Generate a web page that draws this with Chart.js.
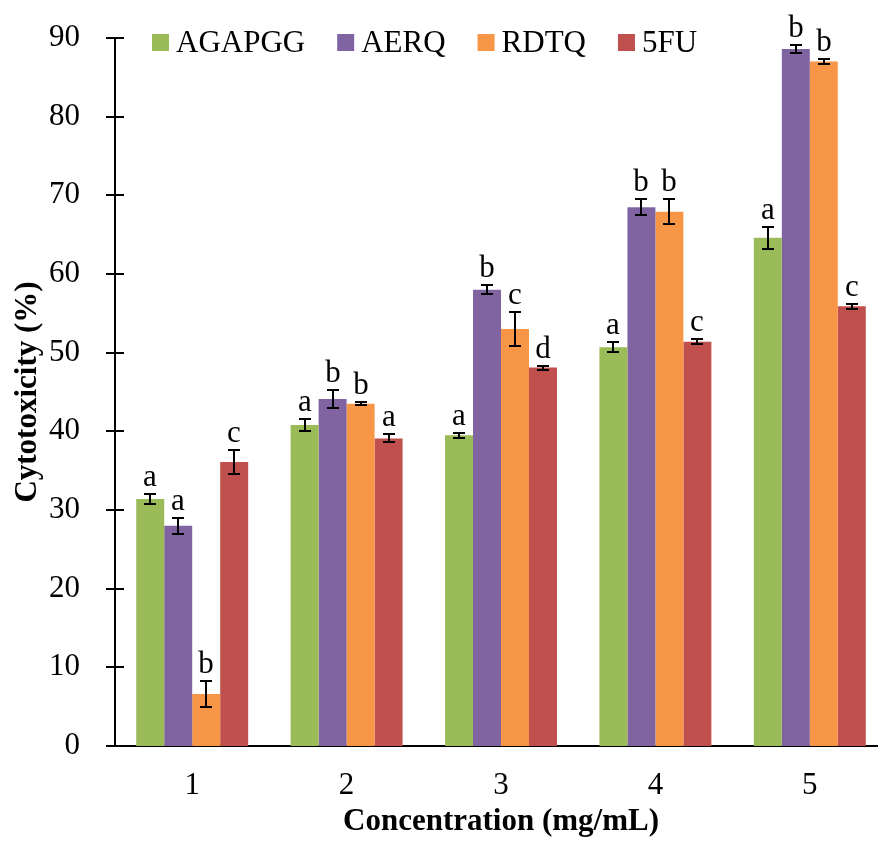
<!DOCTYPE html>
<html>
<head>
<meta charset="utf-8">
<script src="https://cdn.jsdelivr.net/npm/chart.js@4.4.1/dist/chart.umd.min.js"></script>
<style>
  html, body { margin: 0; padding: 0; background: #fff; overflow: hidden; }
  #wrap { width: 890px; height: 841px; }
</style>
</head>
<body>
<div id="wrap"><canvas id="chart" width="890" height="841"></canvas></div>
<script>
// concentrations (mg/mL)
const categories = ['1', '2', '3', '4', '5'];
const seriesNames = ['AGAPGG', 'AERQ', 'RDTQ', '5FU'];
const seriesColors = ['#9BBB59', '#8064A2', '#F79646', '#C0504D'];

// cytotoxicity (%) per sample
const agapgg = [31.4, 40.8, 39.5, 50.7, 64.6];
const aerq = [28.0, 44.1, 58.0, 68.5, 88.6];
const rdtq = [6.6, 43.5, 53.0, 67.9, 87.0];
const fu5 = [36.1, 39.1, 48.1, 51.4, 55.9];

// standard deviations
const agapggErr = [0.6, 0.8, 0.35, 0.6, 1.4];
const aerqErr = [1.0, 1.15, 0.6, 1.0, 0.45];
const rdtqErr = [1.6, 0.2, 2.15, 1.6, 0.3];
const fu5Err = [1.5, 0.5, 0.25, 0.3, 0.3];

// significance letters
const agapggSig = ['a', 'a', 'a', 'a', 'a'];
const aerqSig = ['a', 'b', 'b', 'b', 'b'];
const rdtqSig = ['b', 'b', 'c', 'b', 'b'];
const fu5Sig = ['c', 'a', 'd', 'c', 'c'];

const yTicks = [0, 10, 20, 30, 40, 50, 60, 70, 80, 90];

const values = [agapgg, aerq, rdtq, fu5];
const errors = [agapggErr, aerqErr, rdtqErr, fu5Err];
const letters = [agapggSig, aerqSig, rdtqSig, fu5Sig];

const FONT = "'Liberation Serif', 'Times New Roman', serif";

// error bars with the letter above each one
const errorBarPlugin = {
  id: 'errorBars',
  afterDatasetsDraw(chart) {
    const ctx = chart.ctx;
    const y = chart.scales.y;
    ctx.save();
    ctx.strokeStyle = '#000';
    ctx.lineWidth = 2;
    ctx.fillStyle = '#000';
    ctx.font = '31px ' + FONT;
    ctx.textAlign = 'center';
    ctx.textBaseline = 'alphabetic';
    chart.data.datasets.forEach((ds, i) => {
      const meta = chart.getDatasetMeta(i);
      meta.data.forEach((bar, j) => {
        const v = ds.data[j];
        const e = errors[i][j];
        const top = Math.round(y.getPixelForValue(v + e));
        const bot = Math.round(y.getPixelForValue(v - e));
        const x = Math.round(bar.x);
        ctx.beginPath();
        ctx.moveTo(x, top);
        ctx.lineTo(x, bot);
        ctx.moveTo(x - 6, top);
        ctx.lineTo(x + 6, top);
        ctx.moveTo(x - 6, bot);
        ctx.lineTo(x + 6, bot);
        ctx.stroke();
        ctx.fillText(letters[i][j], x, top - 8);
      });
    });
    ctx.restore();
  }
};

// y ticks cross the axis line; legend sits inside the plot
const axisPlugin = {
  id: 'axisDecor',
  afterDraw(chart) {
    const ctx = chart.ctx;
    const y = chart.scales.y;
    const left = chart.chartArea.left;
    ctx.save();
    ctx.strokeStyle = '#000';
    ctx.lineWidth = 2;
    y.ticks.forEach(t => {
      const py = Math.round(y.getPixelForValue(t.value));
      ctx.beginPath();
      ctx.moveTo(left - 9, py);
      ctx.lineTo(left + 9, py);
      ctx.stroke();
    });

    ctx.font = '31px ' + FONT;
    ctx.textBaseline = 'middle';
    ctx.textAlign = 'left';
    let x = 152;
    const cy = 42;
    chart.data.datasets.forEach(ds => {
      ctx.fillStyle = ds.backgroundColor;
      ctx.fillRect(x, cy - 8, 17, 17);
      ctx.fillStyle = '#000';
      ctx.fillText(ds.label, x + 24, cy + 2);
      x += 24 + ctx.measureText(ds.label).width + 32;
    });
    ctx.restore();
  }
};

new Chart(document.getElementById('chart'), {
  type: 'bar',
  data: {
    labels: categories,
    datasets: seriesNames.map((name, i) => ({
      label: name,
      data: values[i],
      backgroundColor: seriesColors[i],
      borderWidth: 0,
      barPercentage: 1.0,
      categoryPercentage: 0.725
    }))
  },
  options: {
    responsive: false,
    devicePixelRatio: 1,
    animation: false,
    layout: { padding: { top: 38, right: 3, left: 0, bottom: 0 } },
    plugins: {
      legend: { display: false },
      tooltip: { enabled: false }
    },
    scales: {
      x: {
        afterFit(scale) { scale.height = 95; },
        grid: { display: false },
        border: { display: true, color: '#000', width: 2 },
        ticks: { color: '#000', padding: 13, font: { family: FONT, size: 31 } },
        title: {
          display: true,
          text: 'Concentration (mg/mL)',
          color: '#000',
          padding: { top: 0, bottom: 0 },
          font: { family: FONT, size: 31, weight: 'bold' }
        }
      },
      y: {
        min: 0,
        max: 90,
        afterFit(scale) {
          scale.width = 115;
          scale.paddingTop = 0;
          scale.paddingBottom = 0;
        },
        afterBuildTicks(scale) { scale.ticks = yTicks.map(v => ({ value: v })); },
        grid: { display: false },
        border: { display: true, color: '#000', width: 2 },
        ticks: { color: '#000', padding: 27, font: { family: FONT, size: 31 } },
        title: {
          display: true,
          text: 'Cytotoxicity (%)',
          color: '#000',
          padding: { top: 9, bottom: 0 },
          font: { family: FONT, size: 31, weight: 'bold' }
        }
      }
    }
  },
  plugins: [errorBarPlugin, axisPlugin]
});
</script>
</body>
</html>
